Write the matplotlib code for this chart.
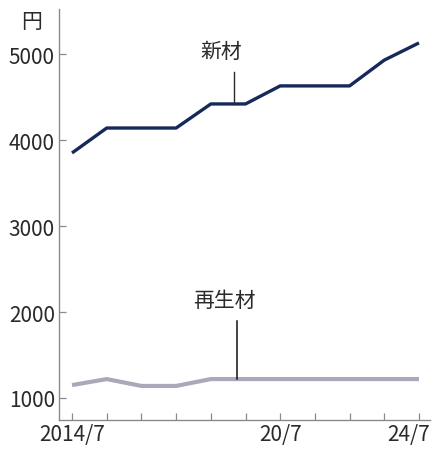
import matplotlib
matplotlib.use("Agg")
import matplotlib.pyplot as plt
from matplotlib.transforms import ScaledTranslation

plt.rcParams['font.family'] = ['Noto Sans CJK JP', 'DejaVu Sans']

# Yearly prices (July), 2014/7 .. 2024/7
years = list(range(11))
tick_labels = ["2014/7", "", "", "", "", "", "20/7", "", "", "", "24/7"]
new_material = [3850, 4140, 4140, 4140, 4420, 4420, 4630, 4630, 4630, 4930, 5130]
recycled = [1150, 1220, 1140, 1140, 1220, 1220, 1220, 1220, 1220, 1220, 1220]

fig = plt.figure(figsize=(4.33, 4.52), dpi=100)
ax = fig.add_axes([0.1363, 0.0686, 0.857, 0.909])

navy = "#15295a"
gray = "#a9a9bb"
ax.plot(years, new_material, color=navy, lw=2.4, solid_capstyle="butt", zorder=3)
ax.plot(years, recycled, color=gray, lw=3.0, solid_capstyle="butt", zorder=3)

ax.set_xlim(-0.375, 10.32)
ax.set_ylim(744, 5523)
ax.set_yticks([1000, 2000, 3000, 4000, 5000])
ax.set_xticks(years)
ax.set_xticklabels(tick_labels)

for s in ("top", "right"):
    ax.spines[s].set_visible(False)
for s in ("left", "bottom"):
    ax.spines[s].set_color("#8a8a8a")
    ax.spines[s].set_linewidth(1.0)

ax.tick_params(axis="both", direction="in", length=5, width=0.9, color="#8a8a8a",
               labelsize=15, labelcolor="#2a2a2a")
ax.tick_params(axis="y", pad=3)
ax.tick_params(axis="x", pad=2)

# keep the last date label inside the figure
last = ax.get_xticklabels()[-1]
last.set_transform(last.get_transform() + ScaledTranslation(-10 / 100, 0, fig.dpi_scale_trans))

# unit label
fig.text(32 / 433, 1 - 22 / 452, "円", ha="center", va="center", fontsize=15, color="#2a2a2a")

# series labels with leader lines
ax.plot([4.67, 4.67], [new_material[4], 4790], color="#2a2a2a", lw=1.0, zorder=4)
ax.text(4.3, 5035, "新材", ha="center", va="center", fontsize=15, color="#2a2a2a")
ax.plot([4.75, 4.75], [recycled[4], 1895], color="#111111", lw=1.1, zorder=4)
ax.text(4.4, 2140, "再生材", ha="center", va="center", fontsize=15, color="#2a2a2a")

fig.savefig("out.png", dpi=100)
